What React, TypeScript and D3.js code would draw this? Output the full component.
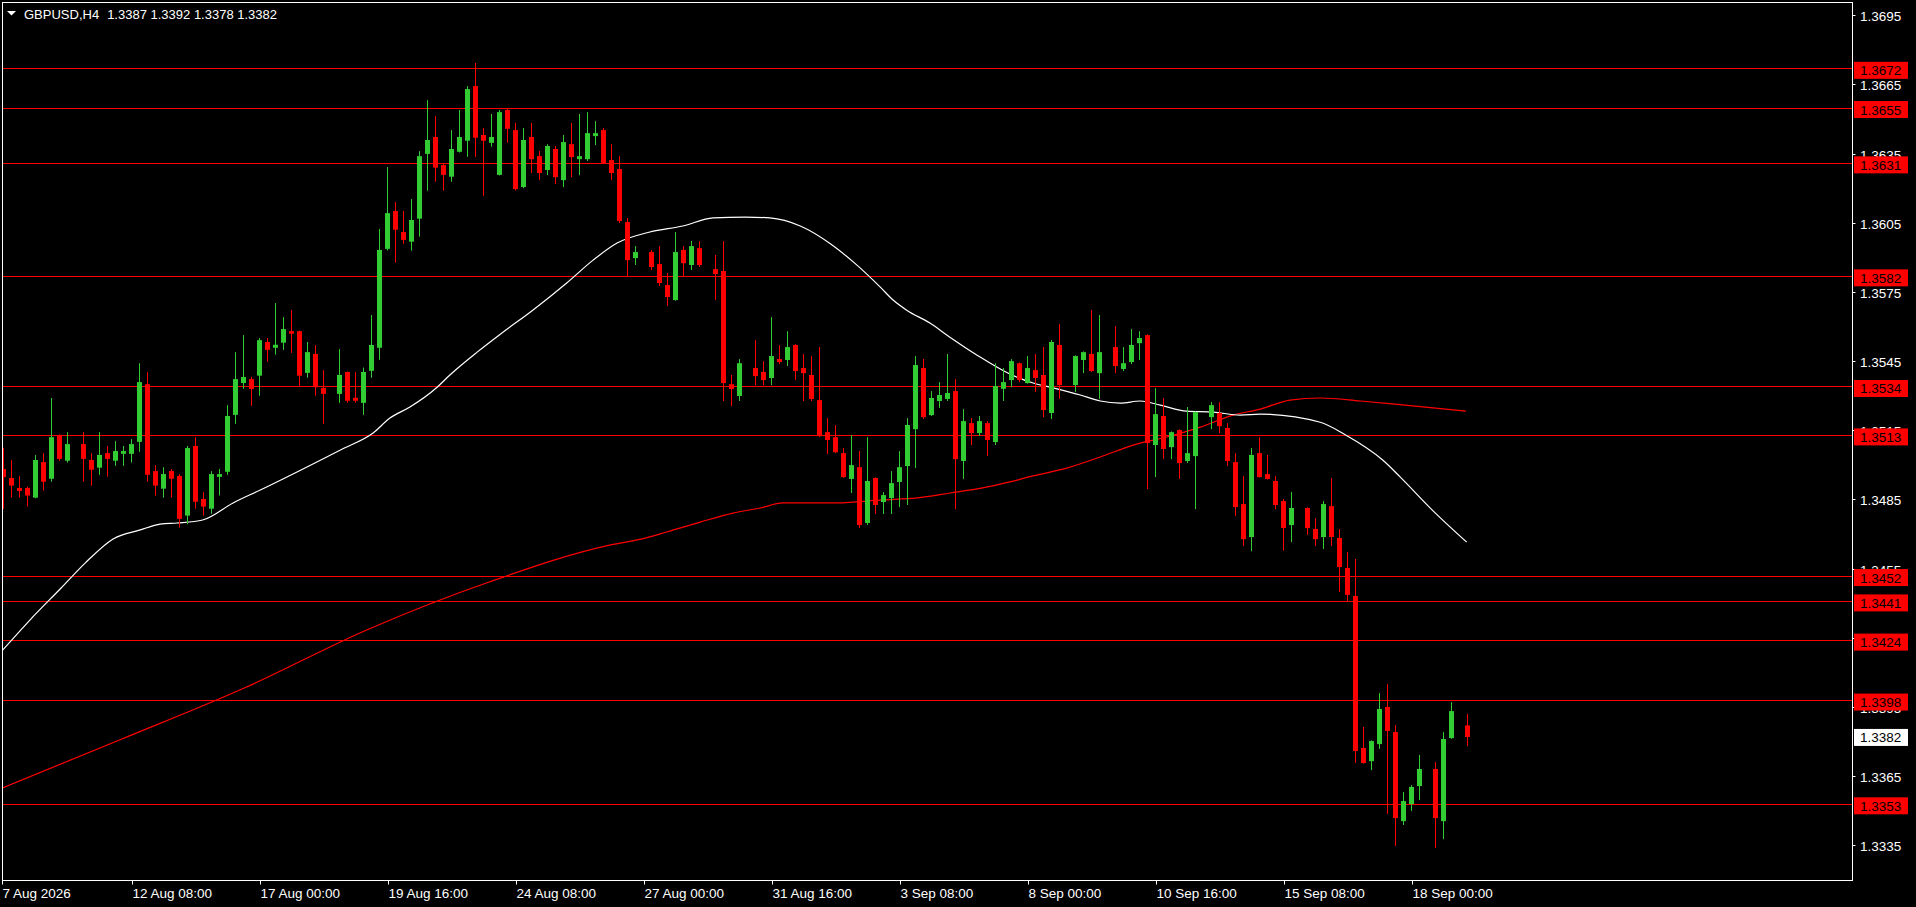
import React, { useEffect } from 'react';
import * as d3 from 'd3';

const SYMBOL = 'GBPUSD,H4';
const LAST_OHLC = [1.3387, 1.3392, 1.3378, 1.3382];
const LAST_PRICE = 1.3382;

// H4 bars, [open, high, low, close]; null where no bar is drawn
const bars: ([number, number, number, number] | null)[] = [
  [1.34982, 1.35074, 1.34809, 1.34947],
  [1.34943, 1.35021, 1.34858, 1.3491],
  [1.349, 1.34952, 1.34858, 1.34887],
  [1.349, 1.34905, 1.34819, 1.34867],
  [1.34858, 1.35043, 1.34855, 1.35021],
  [1.35012, 1.35051, 1.34888, 1.34927],
  [1.3494, 1.3529, 1.34927, 1.3512],
  [1.3513, 1.35132, 1.35018, 1.35026],
  [1.35018, 1.35142, 1.3501, 1.3509],
  null,
  [1.3509, 1.35142, 1.34927, 1.35026],
  [1.35021, 1.35051, 1.3491, 1.34979],
  [1.34988, 1.35142, 1.34957, 1.35043],
  [1.35051, 1.35082, 1.34949, 1.35026],
  [1.35018, 1.35103, 1.34996, 1.3506],
  [1.35048, 1.35082, 1.34996, 1.3506],
  [1.35048, 1.35112, 1.3501, 1.3509],
  [1.351, 1.35441, 1.35057, 1.35359],
  [1.3535, 1.35402, 1.34927, 1.34957],
  [1.34973, 1.34999, 1.34867, 1.3491],
  [1.34897, 1.3499, 1.34858, 1.3496],
  [1.34973, 1.34982, 1.34858, 1.3494],
  [1.34952, 1.3496, 1.34729, 1.34766],
  [1.3478, 1.35082, 1.34742, 1.35073],
  [1.35082, 1.3512, 1.3481, 1.3484],
  [1.34852, 1.34882, 1.3478, 1.34819],
  [1.3481, 1.34973, 1.34788, 1.3496],
  [1.34948, 1.34982, 1.34867, 1.3496],
  [1.3497, 1.35259, 1.34957, 1.35212],
  [1.35217, 1.35489, 1.35178, 1.35372],
  [1.35355, 1.35563, 1.3533, 1.35381],
  [1.35372, 1.35382, 1.35256, 1.35329],
  [1.35387, 1.3555, 1.353, 1.35541],
  [1.35533, 1.3555, 1.35447, 1.35499],
  [1.35508, 1.35702, 1.35478, 1.35521],
  [1.3553, 1.35641, 1.35499, 1.35589],
  [1.3558, 1.35672, 1.35486, 1.35569],
  [1.3558, 1.35582, 1.35339, 1.35387],
  [1.35399, 1.35533, 1.35378, 1.35489],
  [1.35481, 1.3552, 1.353, 1.35337],
  [1.35334, 1.35411, 1.35178, 1.35308],
  null,
  [1.35308, 1.35502, 1.35269, 1.3539],
  [1.35403, 1.35405, 1.35269, 1.35278],
  [1.35291, 1.35403, 1.35269, 1.35278],
  [1.35269, 1.35422, 1.35217, 1.35403],
  [1.35408, 1.3565, 1.35378, 1.3552],
  [1.35508, 1.36023, 1.35456, 1.35932],
  [1.35937, 1.36292, 1.3593, 1.36092],
  [1.36101, 1.3614, 1.35877, 1.3602],
  [1.3601, 1.36101, 1.35959, 1.35976],
  [1.35968, 1.36153, 1.35929, 1.36062],
  [1.36068, 1.36361, 1.3599, 1.36339],
  [1.36349, 1.36582, 1.36189, 1.36409],
  [1.36422, 1.36513, 1.36228, 1.36289],
  [1.363, 1.36309, 1.36189, 1.36258],
  [1.3625, 1.36452, 1.36228, 1.3637],
  [1.36358, 1.36539, 1.36355, 1.36422],
  [1.36406, 1.36643, 1.36336, 1.3663],
  [1.36643, 1.36743, 1.36336, 1.36419],
  [1.36431, 1.36461, 1.36167, 1.36406],
  [1.36397, 1.36522, 1.3638, 1.36422],
  [1.36258, 1.36539, 1.36255, 1.3653],
  [1.36539, 1.36548, 1.36397, 1.36458],
  [1.36452, 1.36484, 1.3619, 1.36196],
  [1.36205, 1.36461, 1.362, 1.36409],
  [1.36422, 1.36483, 1.36266, 1.36326],
  [1.36339, 1.36361, 1.36235, 1.36266],
  [1.36279, 1.36391, 1.36257, 1.36383],
  [1.3637, 1.36383, 1.36218, 1.36248],
  [1.36235, 1.36431, 1.36205, 1.364],
  [1.36391, 1.36483, 1.36248, 1.36335],
  [1.36326, 1.36522, 1.36257, 1.36339],
  [1.36326, 1.3653, 1.36318, 1.36439],
  [1.36426, 1.36491, 1.36387, 1.36439],
  [1.36452, 1.36461, 1.36305, 1.36309],
  [1.36322, 1.36391, 1.36235, 1.36266],
  [1.36283, 1.36339, 1.36049, 1.36058],
  [1.36053, 1.36071, 1.35815, 1.35888],
  [1.35897, 1.35949, 1.35867, 1.35923],
  null,
  [1.35923, 1.35932, 1.35845, 1.35858],
  [1.35871, 1.35949, 1.35776, 1.35789],
  [1.3578, 1.35832, 1.35689, 1.35728],
  [1.35715, 1.3601, 1.35712, 1.35923],
  [1.35932, 1.35949, 1.35815, 1.35875],
  [1.35867, 1.35971, 1.35845, 1.35949],
  [1.3594, 1.35971, 1.35858, 1.35867],
  null,
  [1.35849, 1.3591, 1.35715, 1.35828],
  [1.35841, 1.35971, 1.35277, 1.35355],
  [1.3535, 1.3539, 1.35255, 1.35329],
  [1.35299, 1.35459, 1.35277, 1.35441],
  null,
  [1.3542, 1.35541, 1.35346, 1.35385],
  [1.35403, 1.3545, 1.35346, 1.35368],
  [1.35377, 1.35641, 1.35346, 1.35472],
  [1.35459, 1.3552, 1.35437, 1.35446],
  [1.35455, 1.3558, 1.35429, 1.35511],
  [1.3552, 1.35524, 1.35368, 1.35407],
  [1.3542, 1.35481, 1.35277, 1.35398],
  [1.3539, 1.35472, 1.35277, 1.35286],
  [1.35281, 1.35511, 1.3512, 1.35125],
  [1.35142, 1.35203, 1.35047, 1.35108],
  [1.3512, 1.35173, 1.35052, 1.35055],
  [1.35051, 1.35073, 1.34944, 1.34947],
  [1.34939, 1.35129, 1.34878, 1.34999],
  [1.3499, 1.3506, 1.34726, 1.34739],
  [1.34748, 1.3512, 1.34739, 1.3493],
  [1.34943, 1.34946, 1.34787, 1.34826],
  [1.34839, 1.34882, 1.34787, 1.34869],
  [1.34856, 1.34973, 1.34787, 1.34921],
  [1.34926, 1.3506, 1.34817, 1.3499],
  [1.34995, 1.35203, 1.34826, 1.35173],
  [1.35155, 1.35472, 1.34986, 1.35433],
  [1.3542, 1.35459, 1.35199, 1.35207],
  [1.35216, 1.3532, 1.35212, 1.3529],
  [1.35277, 1.35359, 1.35247, 1.35303],
  [1.35286, 1.35481, 1.35277, 1.35312],
  [1.3532, 1.35372, 1.34808, 1.35025],
  [1.35017, 1.35242, 1.34939, 1.3519],
  [1.35181, 1.35203, 1.35086, 1.35138],
  [1.35138, 1.35212, 1.35125, 1.3519],
  [1.35181, 1.3519, 1.35038, 1.35108],
  [1.35099, 1.35441, 1.35086, 1.35342],
  [1.3533, 1.3542, 1.35277, 1.35359],
  [1.35368, 1.35459, 1.35337, 1.3545],
  [1.35441, 1.35444, 1.35359, 1.35368],
  [1.35355, 1.35472, 1.35352, 1.3542],
  [1.35411, 1.35481, 1.35316, 1.35377],
  [1.3539, 1.35511, 1.35207, 1.35238],
  [1.35225, 1.35541, 1.35199, 1.35533],
  [1.3552, 1.35611, 1.35286, 1.35346],
  null,
  [1.35346, 1.35475, 1.35316, 1.35472],
  [1.35455, 1.35492, 1.35398, 1.35489],
  [1.35481, 1.35672, 1.35403, 1.35407],
  [1.35398, 1.3565, 1.35286, 1.35489],
  null,
  [1.35511, 1.35602, 1.35398, 1.35429],
  [1.35416, 1.35511, 1.35407, 1.35441],
  [1.35446, 1.35589, 1.35437, 1.3552],
  [1.35528, 1.3558, 1.35455, 1.3555],
  [1.35563, 1.35566, 1.34895, 1.35095],
  [1.35086, 1.35333, 1.34947, 1.3522],
  [1.35212, 1.3529, 1.35025, 1.35069],
  [1.35077, 1.35145, 1.35025, 1.35142],
  [1.35151, 1.35154, 1.34939, 1.35008],
  [1.35017, 1.35251, 1.35008, 1.35051],
  [1.35038, 1.35232, 1.34808, 1.35229],
  null,
  [1.35207, 1.35272, 1.35155, 1.35259],
  [1.35225, 1.35272, 1.35138, 1.35168],
  [1.3516, 1.35181, 1.34995, 1.35017],
  [1.35012, 1.35051, 1.34778, 1.34817],
  [1.3483, 1.34952, 1.34648, 1.34678],
  [1.34687, 1.35073, 1.34626, 1.35043],
  [1.35051, 1.3512, 1.34945, 1.34947],
  [1.3496, 1.35043, 1.34936, 1.34939],
  [1.3493, 1.34952, 1.34808, 1.34826],
  [1.34843, 1.34852, 1.34628, 1.34726],
  [1.34739, 1.34882, 1.34665, 1.34813],
  null,
  [1.34813, 1.34816, 1.34696, 1.34726],
  [1.34722, 1.34769, 1.34648, 1.34678],
  [1.34687, 1.34843, 1.34635, 1.3483],
  [1.34821, 1.34943, 1.34648, 1.34687],
  [1.34683, 1.34722, 1.34449, 1.34557],
  [1.34553, 1.34622, 1.3441, 1.34436],
  [1.34431, 1.34592, 1.33707, 1.33759],
  [1.33772, 1.33863, 1.33704, 1.33707],
  [1.33715, 1.33805, 1.33676, 1.33802],
  [1.33789, 1.3401, 1.33768, 1.33941],
  [1.3395, 1.34049, 1.33486, 1.33846],
  [1.33841, 1.33872, 1.33347, 1.33468],
  [1.33455, 1.33581, 1.33438, 1.33542],
  [1.33529, 1.33611, 1.33499, 1.33603],
  [1.33607, 1.33742, 1.33546, 1.33681],
  null,
  [1.33681, 1.33711, 1.33338, 1.33468],
  [1.33455, 1.33841, 1.33377, 1.33811],
  [1.33815, 1.33971, 1.33812, 1.33932],
  null,
  [1.3387, 1.3392, 1.3378, 1.3382],
];

// moving averages: [bar index, price]
const fastMa: [number, number][] = [
  [-0.2, 1.34193], [3.3, 1.34327], [7.2, 1.34466], [10.2, 1.34574], [13.7, 1.34679],
  [17.1, 1.34718], [19.6, 1.34743], [21.7, 1.34748], [24.9, 1.34761], [28.7, 1.34835],
  [32.1, 1.34891], [42.3, 1.35068], [46.2, 1.35138], [48.3, 1.35203], [50.8, 1.35251],
  [54.2, 1.35337], [55.8, 1.3539], [59.2, 1.35489], [62.1, 1.35567], [66.2, 1.35672],
  [70.4, 1.35789], [73.7, 1.35888], [76.7, 1.35962], [80.8, 1.3601], [84.9, 1.36036],
  [88.7, 1.36071], [92.7, 1.36075], [95.8, 1.36071], [99.6, 1.36036], [103.4, 1.35958],
  [106.4, 1.35875], [109.6, 1.35771], [111.2, 1.35715], [112.9, 1.35671], [115.8, 1.35615],
  [118.3, 1.35554], [121.7, 1.35476], [125.8, 1.35394], [128.7, 1.35355], [131.2, 1.35334],
  [134.6, 1.35303], [137.1, 1.35277], [139.6, 1.35268], [142.1, 1.35277], [144.6, 1.35259],
  [147.9, 1.35233], [151.2, 1.35229], [154.6, 1.35216], [157.1, 1.3522], [164.6, 1.35185],
  [167.6, 1.35133], [172.4, 1.35021], [174.6, 1.34947], [178.6, 1.34804], [182.9, 1.34665],
];

const slowMa: [number, number][] = [
  [-0.2, 1.33598], [14.8, 1.33811], [30.1, 1.34032], [45.4, 1.34284], [60.7, 1.34492],
  [75.9, 1.34653], [79.8, 1.34679], [82.9, 1.34709], [87.1, 1.34752], [91.2, 1.34791],
  [94.6, 1.34813], [97.4, 1.34835], [104.2, 1.34835], [109.9, 1.34848], [114.2, 1.34857],
  [118.3, 1.34878], [122.4, 1.349], [125.8, 1.34926], [128.7, 1.34952], [132.9, 1.34986],
  [137.1, 1.35034], [141.2, 1.35086], [145.4, 1.35121], [149.6, 1.35164], [153.7, 1.35216],
  [157.1, 1.35242], [160.8, 1.35281], [164.6, 1.3529], [169.6, 1.35277], [175.2, 1.35259],
  [182.8, 1.35233],
];

const levels = [1.3672, 1.3655, 1.3631, 1.3582, 1.3534, 1.3513, 1.3452, 1.3441, 1.3424, 1.3398, 1.3353];

const priceTicks = [1.3695, 1.3665, 1.3635, 1.3605, 1.3575, 1.3545, 1.3515, 1.3485, 1.3455, 1.3425, 1.3395, 1.3365, 1.3335];

const timeLabels = [
  '7 Aug 2026', '12 Aug 08:00', '17 Aug 00:00', '19 Aug 16:00', '24 Aug 08:00', '27 Aug 00:00',
  '31 Aug 16:00', '3 Sep 08:00', '8 Sep 00:00', '10 Sep 16:00', '15 Sep 08:00', '18 Sep 00:00',
];
const timeTickBars = [0, 16, 32, 48, 64, 80, 96, 112, 128, 144, 160, 176];

const W = 1916;
const H = 907;
const LEFT = 2.5;
const TOP = 2.5;
const RIGHT = 1852.5;
const BOTTOM = 880.5;

const BULL = '#32cd32';
const BEAR = '#ff0000';
const FONT = '"Liberation Sans", Arial, sans-serif';

const App: React.FC = () => {
  useEffect(() => {
    document.body.style.margin = '0';
    document.body.style.background = '#000';
  }, []);

  const x = d3.scaleLinear().domain([0, 183]).range([3.5, 1467.5]);
  const y = d3.scaleLinear().domain([1.3335, 1.3695]).range([845.3, 15.3]);

  const maLine = d3
    .line<[number, number]>()
    .x((d) => x(d[0]))
    .y((d) => y(d[1]))
    .curve(d3.curveMonotoneX);

  return (
    <svg
      width={W}
      height={H}
      style={{ position: 'absolute', left: 0, top: 0, display: 'block', background: '#000' }}
      fontFamily={FONT}
    >
      <defs>
        <clipPath id="plot">
          <rect x={LEFT} y={TOP} width={RIGHT - LEFT} height={BOTTOM - TOP} />
        </clipPath>
      </defs>
      <rect x={0} y={0} width={W} height={H} fill="#000" />

      <g clipPath="url(#plot)">
        {levels.map((lv) => (
          <line
            key={lv}
            x1={LEFT}
            x2={RIGHT}
            y1={Math.round(y(lv)) + 0.5}
            y2={Math.round(y(lv)) + 0.5}
            stroke="#ff0000"
            strokeWidth={1}
          />
        ))}

        <path d={maLine(slowMa)!} fill="none" stroke="#ff0000" strokeWidth={1.2} />
        <path d={maLine(fastMa)!} fill="none" stroke="#ffffff" strokeWidth={1.2} />

        {bars.map((b, i) => {
          if (!b) return null;
          const [o, h, l, c] = b;
          const cx = x(i);
          const col = c >= o ? BULL : BEAR;
          const top = y(Math.max(o, c));
          const bh = Math.max(1, y(Math.min(o, c)) - top);
          return (
            <g key={i}>
              <line x1={cx} x2={cx} y1={y(h)} y2={y(l)} stroke={col} strokeWidth={1} />
              <rect x={cx - 2.5} y={top} width={5} height={bh} fill={col} />
            </g>
          );
        })}
      </g>

      {/* frame */}
      <rect x={LEFT} y={TOP} width={RIGHT - LEFT} height={BOTTOM - TOP} fill="none" stroke="#fff" strokeWidth={1} />

      {/* price axis */}
      {priceTicks.map((p) => {
        const ty = Math.round(y(p)) + 0.5;
        return (
          <g key={p}>
            <line x1={RIGHT} x2={RIGHT + 3} y1={ty} y2={ty} stroke="#fff" />
            <text x={1860} y={ty + 5} fill="#fff" fontSize={13.5}>
              {p.toFixed(4)}
            </text>
          </g>
        );
      })}

      {levels.map((lv) => {
        const cy = y(lv) + 2;
        return (
          <g key={'lbl' + lv}>
            <rect x={1854} y={cy - 8.5} width={54} height={17} fill="#ff0000" />
            <text x={1860} y={cy + 5} fill="#000" fontSize={13.5}>
              {lv.toFixed(4)}
            </text>
          </g>
        );
      })}

      <g>
        <rect x={1854} y={y(LAST_PRICE) - 8} width={54} height={17} fill="#fff" />
        <text x={1860} y={y(LAST_PRICE) + 5.5} fill="#000" fontSize={13.5}>
          {LAST_PRICE.toFixed(4)}
        </text>
      </g>

      {/* time axis */}
      {timeTickBars.map((bi, k) => {
        const tx = k === 0 ? LEFT : Math.round(x(bi)) + 0.5;
        return (
          <g key={bi}>
            <line x1={tx} x2={tx} y1={BOTTOM} y2={BOTTOM + 4} stroke="#fff" />
            <text x={tx} y={898} fill="#fff" fontSize={13.5}>
              {timeLabels[k]}
            </text>
          </g>
        );
      })}

      {/* header */}
      <path d="M7,11 L16,11 L11.5,15.5 Z" fill="#fff" />
      <text x={24} y={18.5} fill="#fff" fontSize={13}>
        {SYMBOL}
        <tspan dx={8}>{LAST_OHLC.map((v) => v.toFixed(4)).join(' ')}</tspan>
      </text>
    </svg>
  );
};

export default App;
